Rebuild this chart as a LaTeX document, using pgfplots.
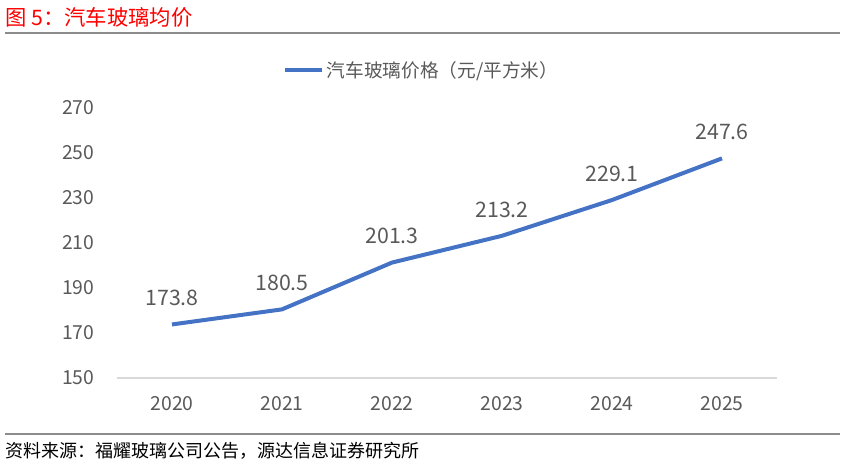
\documentclass[border=0pt]{standalone}
\usepackage{pgfplots}
\pgfplotsset{compat=1.18}
\usepackage{fontspec}
\setmainfont{Noto Sans CJK SC}
\definecolor{tgray}{HTML}{595959}
\definecolor{lblue}{HTML}{4472C4}
\begin{document}
\begin{tikzpicture}
\path[use as bounding box] (0pt,0pt) rectangle (635.25pt,348pt);
% title
\node[anchor=west,text=red,font=\fontsize{16pt}{18pt}\selectfont,inner sep=0] at (3.75pt,335.25pt) {图 5：汽车玻璃均价};
\draw[color=gray!90,line width=1.5pt] (3.75pt,323.25pt) -- (630pt,323.25pt);
\draw[color=gray!90,line width=1.2pt] (3.75pt,22.5pt) -- (630pt,22.5pt);
\node[anchor=west,text=black,font=\fontsize{13.5pt}{15pt}\selectfont,inner sep=0] at (3.75pt,9.75pt) {资料来源：福耀玻璃公司公告，源达信息证券研究所};
\begin{axis}[
  at={(87.75pt,64.5pt)}, anchor=south west,
  scale only axis, width=495pt, height=202.5pt,
  xmin=-0.5, xmax=5.5, ymin=150, ymax=270,
  ytick={150,170,...,270},
  xtick={0,1,2,3,4,5},
  xticklabels={2020,2021,2022,2023,2024,2025},
  axis x line*=bottom, axis y line*=left,
  axis line style={draw=none},
  major tick length=0pt,
  tick label style={text=tgray,font=\fontsize{14.5pt}{16pt}\selectfont},
  /pgf/number format/assume math mode=true,
  yticklabel style={anchor=east, xshift=-13.5pt},
  xticklabel style={yshift=-10pt},
  clip=false,
  legend style={at={(0.462,1.14)},anchor=center,draw=none,fill=none,
    font=\fontsize{14pt}{16pt}\selectfont,text=tgray},
  legend image code/.code={\draw[#1,line width=3pt] (0pt,0pt) -- (28pt,0pt);},
  every node near coord/.append style={text=tgray,font=\fontsize{16pt}{18pt}\selectfont,anchor=south,yshift=9pt},
]
\draw[color=black!15,line width=0.8pt] (axis cs:-0.5,150) -- (axis cs:5.5,150);
\addplot[color=lblue,line width=3pt,mark=none,
  nodes near coords,
  point meta=explicit symbolic]
  coordinates {(0,173.8)[173.8] (1,180.5)[180.5] (2,201.3)[201.3] (3,213.2)[213.2] (4,229.1)[229.1] (5,247.6)[247.6]};
\addlegendentry{汽车玻璃价格（元/平方米）}
\end{axis}
\end{tikzpicture}
\end{document}
